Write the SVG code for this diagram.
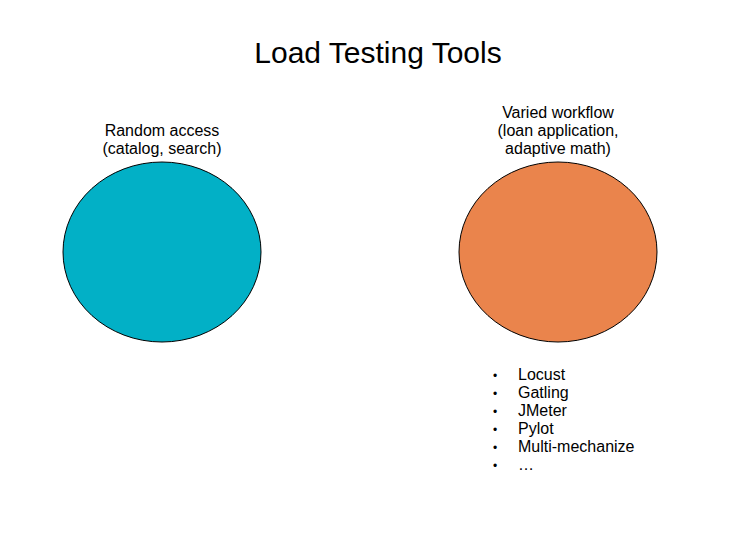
<svg xmlns="http://www.w3.org/2000/svg" width="756" height="553" viewBox="0 0 756 553">
<style>
text{font-family:"Liberation Sans",Arial,sans-serif;fill:#000}
.t{font-size:30px;text-anchor:middle}
.l{font-size:16px;text-anchor:middle}
.b{font-size:16px}
.d{font-size:12px}
.e{stroke:#000;stroke-width:1}
</style>
<rect width="756" height="553" fill="#fff"/>
<text class="t" x="378" y="63">Load Testing Tools</text>
<g id="random">
<ellipse class="e" cx="162" cy="252" rx="99" ry="90" fill="#02b0c6"/>
<text class="l" x="162" y="136">Random access</text>
<text class="l" x="162" y="154">(catalog, search)</text>
</g>
<g id="varied">
<ellipse class="e" cx="558" cy="252" rx="99" ry="90" fill="#ea844c"/>
<text class="l" x="558" y="118">Varied workflow</text>
<text class="l" x="558" y="136">(loan application,</text>
<text class="l" x="558" y="154">adaptive math)</text>
</g>
<g id="list">
<text class="d" x="493" y="380">•</text><text class="b" x="518" y="380">Locust</text>
<text class="d" x="493" y="398">•</text><text class="b" x="518" y="398">Gatling</text>
<text class="d" x="493" y="416">•</text><text class="b" x="518" y="416">JMeter</text>
<text class="d" x="493" y="434">•</text><text class="b" x="518" y="434">Pylot</text>
<text class="d" x="493" y="452">•</text><text class="b" x="518" y="452">Multi-mechanize</text>
<text class="d" x="493" y="470">•</text><text class="b" x="518" y="470">…</text>
</g>
<g id="connectors"/>
</svg>
